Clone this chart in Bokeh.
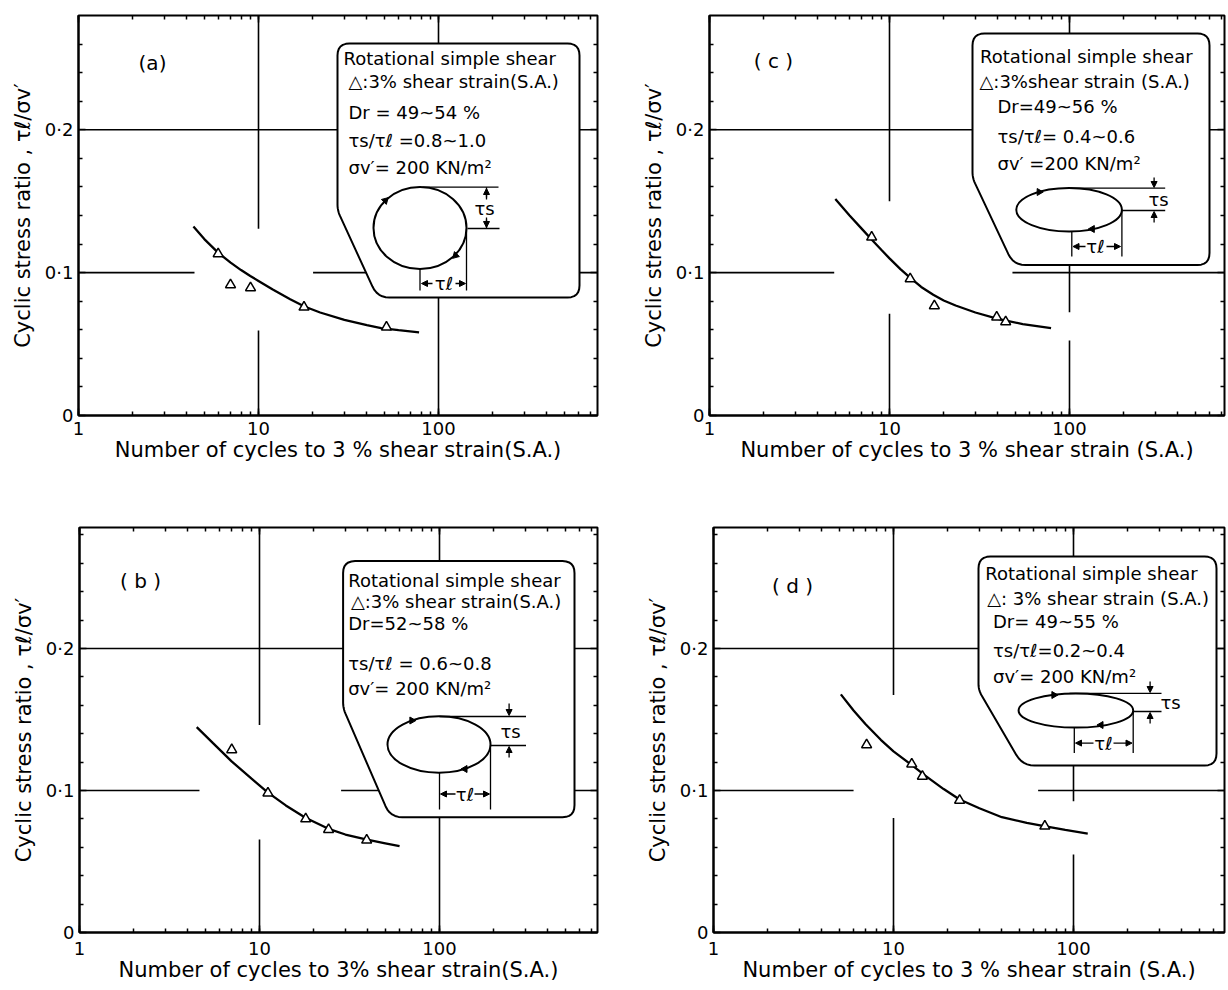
import math
from bokeh.plotting import figure
from bokeh.models import (Range1d, LogAxis, LinearAxis, LogTicker, FixedTicker,
                          CustomJSTickFormatter, Arrow, NormalHead, ColumnDataSource)
from bokeh.layouts import row, column
from bokeh.core.properties import value
from bokeh.embed import file_html
from bokeh.resources import INLINE

FONT = "DejaVu Sans"

# ---------------- data ----------------
a_cycles = [5.97, 6.99, 9.03, 17.9, 51.4]
a_ratio = [0.1132, 0.0915, 0.0894, 0.0758, 0.0618]
a_fit_cycles = [4.35, 5, 6, 7, 8, 9, 10, 12, 15, 18, 22, 30, 40, 48, 60, 78]
a_fit_ratio = [0.1323, 0.1235, 0.1137, 0.1070, 0.1018, 0.0976, 0.0942, 0.0882,
               0.0814, 0.0763, 0.0721, 0.0670, 0.0632, 0.0612, 0.0597, 0.0582]

b_cycles = [7.01, 11.14, 18.06, 24.2, 39.4]
b_ratio = [0.1287, 0.0982, 0.0800, 0.0725, 0.0650]
b_fit_cycles = [4.48, 5.5, 7, 9, 11.1, 14, 18, 24, 30, 39, 50, 60]
b_fit_ratio = [0.1446, 0.1335, 0.1205, 0.1085, 0.0987, 0.0895, 0.0808, 0.0732,
               0.0690, 0.0655, 0.0628, 0.0608]

c_cycles = [7.96, 13.03, 17.75, 39.4, 44.2]
c_ratio = [0.1248, 0.0957, 0.0768, 0.0688, 0.0656]
c_fit_cycles = [5, 6, 7, 8, 9, 10, 11.5, 13, 15, 17.5, 20, 23.3, 30, 40, 55, 79]
c_fit_ratio = [0.1515, 0.1400, 0.1308, 0.1228, 0.1160, 0.1100, 0.1025, 0.0965,
               0.0900, 0.0845, 0.0805, 0.0770, 0.0721, 0.0677, 0.0640, 0.0611]

d_cycles = [7.09, 12.63, 14.47, 23.3, 69.3]
d_ratio = [0.1322, 0.1186, 0.1100, 0.0931, 0.0749]
d_fit_cycles = [5.1, 6, 7, 8.5, 10, 12.6, 15, 19, 23.3, 30, 40, 55, 70, 90, 120]
d_fit_ratio = [0.1677, 0.1564, 0.1467, 0.1357, 0.1276, 0.1180, 0.1105, 0.1010,
               0.0937, 0.0875, 0.0812, 0.0772, 0.0748, 0.0722, 0.0697]

y_tick_values = [0, 0.1, 0.2]
y_tick_labels = ["0", "0·1", "0·2"]
y_minor_values = [0.02, 0.04, 0.06, 0.08, 0.12, 0.14, 0.16, 0.18, 0.22, 0.24, 0.26, 0.28]
x_tick_values = [1, 10, 100]
x_tick_labels = ["1", "10", "100"]

y_title = "Cyclic stress ratio , τℓ/σv′"
x_title_a = "Number of cycles to 3 % shear strain(S.A.)"
x_title_b = "Number of cycles to 3% shear strain(S.A.)"
x_title_c = "Number of cycles to 3 % shear strain (S.A.)"
x_title_d = "Number of cycles to 3 % shear strain (S.A.)"

legend_a = ["Rotational simple shear", "△:3% shear strain(S.A.)", "Dr = 49~54 %",
            "τs/τℓ =0.8~1.0", "σv′= 200 KN/m²"]
legend_b = ["Rotational simple shear", "△:3% shear strain(S.A.)", "Dr=52~58 %",
            "τs/τℓ = 0.6~0.8", "σv′= 200 KN/m²"]
legend_c = ["Rotational simple shear", "△:3%shear strain (S.A.)", "Dr=49~56 %",
            "τs/τℓ= 0.4~0.6", "σv′ =200  KN/m²"]
legend_d = ["Rotational simple shear", "△: 3% shear strain (S.A.)", "Dr= 49~55 %",
            "τs/τℓ=0.2~0.4", "σv′= 200 KN/m²"]

# ---------------- layout (reference pixel positions) ----------------
PANELS = {
    "a": dict(tag="(a)", tag_xy=(152, 62), cycles=a_cycles, ratio=a_ratio,
              fit_x=a_fit_cycles, fit_y=a_fit_ratio, xtitle=x_title_a, legend=legend_a,
              Lref=78, Y0=415, S=1428.6, fw=519, fh=400,
              w=608, h=498, bl=78, br=11, bt=15, bb=83, tick_sto=6,
              hgrid=[(0.2, 1, None), (0.1, 1, 4.41), (0.1, 20.1, None)],
              vgrid=[(10, 0.1307, None), (10, 0, 0.0595), (100, 0, None)],
              box=(337, 43, 579, 297, 210, 377),
              leg_xy=[(343, 58), (348, 81), (348, 112), (348, 140), (348, 167)],
              ell=(419.5, 227.5, 93, 82),
              segs=[(422, 186.7, 498, 186.7), (467, 228, 499, 228), (486, 186.7, 486, 197),
                    (486, 219, 486, 228), (419.5, 268, 419.5, 290), (466, 228, 466, 290)],
              arrows=[(486, 199, 486, 188), (486, 217, 486, 227), (432, 283, 421, 283), (455, 283, 465, 283)],
              dimlab=[("τs", 484, 208), ("τℓ", 443.5, 283)],
              eheads=[(384.8, 200, -math.pi / 4), (455, 255, 3 * math.pi / 4)]),
    "c": dict(tag="( c )", tag_xy=(773, 60), cycles=c_cycles, ratio=c_ratio,
              fit_x=c_fit_cycles, fit_y=c_fit_ratio, xtitle=x_title_c, legend=legend_c,
              Lref=709, Y0=415, S=1428.6, fw=515, fh=400,
              w=618, h=498, bl=101, br=2, bt=15, bb=83, tick_sto=6,
              hgrid=[(0.2, 1, None), (0.1, 1, 4.93), (0.1, 48.2, None)],
              vgrid=[(10, 0.150, None), (10, 0, 0.0712), (100, 0.0723, None), (100, 0, 0.0525)],
              box=(972, 33, 1209, 264.5, 177.5, 1013),
              leg_xy=[(979.6, 55.5), (979, 80.6), (997, 106), (997, 135.7), (997, 162.5)],
              ell=(1068.6, 209.3, 105.6, 43.5),
              segs=[(1070, 187.6, 1164.7, 187.6), (1121.4, 210, 1164.7, 210),
                    (1071.3, 231, 1071.3, 256), (1121.4, 210, 1121.4, 256)],
              arrows=[(1153.6, 177, 1153.6, 187), (1153.6, 222, 1153.6, 211),
                      (1085, 246, 1072.5, 246), (1106, 246, 1120, 246)],
              dimlab=[("τs", 1158, 199), ("τℓ", 1095, 246)],
              eheads=[(1038.7, 191.5, -math.pi / 2), (1091.8, 228.5, math.pi / 2)]),
    "b": dict(tag="( b )", tag_xy=(140, 580), cycles=b_cycles, ratio=b_ratio,
              fit_x=b_fit_cycles, fit_y=b_fit_ratio, xtitle=x_title_b, legend=legend_b,
              Lref=79, Y0=932, S=1420.0, fw=518, fh=405,
              w=608, h=490, bl=79, br=11, bt=29, bb=56, tick_sto=9,
              hgrid=[(0.2, 1, None), (0.1, 1, 4.64), (0.1, 28.4, None)],
              vgrid=[(10, 0.1462, None), (10, 0, 0.0655), (100, 0, None)],
              box=(342.6, 560.6, 574, 816.7, 707.7, 389.8),
              leg_xy=[(347.7, 580), (350.4, 601.4), (347.7, 623), (347.7, 663), (347.7, 688)],
              ell=(438.5, 744, 103, 56.5),
              segs=[(439, 716, 525.5, 716), (490, 745, 525.5, 745),
                    (439, 772.5, 439, 809), (490, 745, 490, 809)],
              arrows=[(508.6, 703, 508.6, 715), (508.6, 757, 508.6, 746),
                      (455, 793.5, 440, 793.5), (474, 793.5, 489, 793.5)],
              dimlab=[("τs", 510, 731), ("τℓ", 464.5, 793.5)],
              eheads=[(411.4, 720, -math.pi / 2), (464.5, 768.5, math.pi / 2)]),
    "d": dict(tag="( d )", tag_xy=(792, 585), cycles=d_cycles, ratio=d_ratio,
              fit_x=d_fit_cycles, fit_y=d_fit_ratio, xtitle=x_title_d, legend=legend_d,
              Lref=713, Y0=932, S=1420.0, fw=511, fh=405,
              w=618, h=490, bl=105, br=2, bt=29, bb=56, tick_sto=9,
              hgrid=[(0.2, 1, None), (0.1, 1, 6.0), (0.1, 63.6, None)],
              vgrid=[(10, 0.1673, None), (10, 0, 0.0807), (100, 0.0924, None), (100, 0, 0.055)],
              box=(978, 556, 1216, 765, 689.5, 1022),
              leg_xy=[(984.7, 573), (986.7, 598), (992.5, 621.4), (992.5, 649.6), (992.5, 676.2)],
              ell=(1075.4, 710, 114.6, 34.2),
              segs=[(1069, 692.8, 1161, 692.8), (1132.7, 711, 1161, 711),
                    (1073.8, 727, 1073.8, 752.6), (1132.7, 711, 1132.7, 752.6)],
              arrows=[(1149.6, 681, 1149.6, 692), (1149.6, 723, 1149.6, 712),
                      (1093, 742.6, 1075, 742.6), (1113, 742.6, 1131.5, 742.6)],
              dimlab=[("τs", 1170, 702), ("τℓ", 1103, 742.6)],
              eheads=[(1053.4, 694.5, -math.pi / 2), (1100.5, 724.5, math.pi / 2)]),
}


def rounded_poly(pts, radii, n=6):
    out = []
    m = len(pts)
    for i in range(m):
        P, A, B = pts[i], pts[i - 1], pts[(i + 1) % m]
        r = radii[i]

        def toward(Q):
            dx, dy = Q[0] - P[0], Q[1] - P[1]
            L = math.hypot(dx, dy)
            return (P[0] + dx / L * r, P[1] + dy / L * r)
        P1, P2 = toward(A), toward(B)
        for k in range(n + 1):
            t = k / n
            out.append(((1 - t) ** 2 * P1[0] + 2 * (1 - t) * t * P[0] + t ** 2 * P2[0],
                        (1 - t) ** 2 * P1[1] + 2 * (1 - t) * t * P[1] + t ** 2 * P2[1]))
    return out


def style_ticks(ax):
    ax.major_tick_in = 7
    ax.major_tick_out = 0
    ax.minor_tick_in = 4
    ax.minor_tick_out = 0
    ax.major_tick_line_width = 1.5
    ax.minor_tick_line_width = 1.5
    ax.major_tick_line_color = "black"
    ax.minor_tick_line_color = "black"


def make_panel(s):
    xmax = 10 ** (s["fw"] / 180.0)
    ymax = s["fh"] / s["S"]
    fx = lambda X: 10 ** ((X - s["Lref"]) / 180.0)
    fy = lambda Y: (s["Y0"] - Y) / s["S"]

    p = figure(width=s["w"], height=s["h"], x_axis_type="log",
               x_range=Range1d(1, xmax), y_range=Range1d(0, ymax),
               output_backend="svg", toolbar_location=None,
               min_border_left=s["bl"], min_border_right=s["br"],
               min_border_top=s["bt"], min_border_bottom=s["bb"],
               background_fill_color="white", border_fill_color="white")
    p.outline_line_color = "black"
    p.outline_line_width = 2
    p.xgrid.visible = False
    p.ygrid.visible = False

    # axes
    xa = p.xaxis[0]
    ya = p.yaxis[0]
    xa.ticker = LogTicker(num_minor_ticks=10)
    xa.formatter = CustomJSTickFormatter(
        args=dict(vals=x_tick_values, labs=x_tick_labels),
        code="for (let i = 0; i < vals.length; i++) { if (Math.abs(tick - vals[i]) < 1e-6 * vals[i]) return labs[i]; } return '';")
    ya.ticker = FixedTicker(ticks=y_tick_values, minor_ticks=y_minor_values)
    ya.formatter = CustomJSTickFormatter(
        args=dict(vals=y_tick_values, labs=y_tick_labels),
        code="for (let i = 0; i < vals.length; i++) { if (Math.abs(tick - vals[i]) < 1e-9) return labs[i]; } return '';")
    xa.axis_label = s["xtitle"]
    ya.axis_label = y_title
    for ax in (xa, ya):
        ax.axis_line_color = "black"
        ax.axis_line_width = 2
        style_ticks(ax)
        ax.major_label_text_font = FONT
        ax.major_label_text_font_size = "18px"
        ax.major_label_text_color = "black"
        ax.axis_label_text_font = FONT
        ax.axis_label_text_font_size = "21px"
        ax.axis_label_text_font_style = "normal"
        ax.axis_label_text_color = "black"
    xa.major_label_standoff = s["tick_sto"]
    xa.axis_label_standoff = 0
    ya.major_label_standoff = 5
    ya.axis_label_standoff = 7

    top = LogAxis(ticker=LogTicker(num_minor_ticks=10),
                  formatter=CustomJSTickFormatter(code="return '';"))
    right = LinearAxis(ticker=FixedTicker(ticks=y_tick_values, minor_ticks=y_minor_values),
                       formatter=CustomJSTickFormatter(code="return '';"))
    for ax in (top, right):
        ax.major_label_text_font_size = "8px"
        ax.major_label_standoff = 0
        ax.axis_line_color = None
        style_ticks(ax)
    p.add_layout(top, "above")
    p.add_layout(right, "right")

    # broken grid lines
    gx0, gy0, gx1, gy1 = [], [], [], []
    for yv, xa0, xb in s["hgrid"]:
        gx0.append(xa0); gx1.append(xmax if xb is None else xb); gy0.append(yv); gy1.append(yv)
    for xv, ya0, yb in s["vgrid"]:
        gx0.append(xv); gx1.append(xv); gy0.append(ya0); gy1.append(ymax if yb is None else yb)
    p.segment(gx0, gy0, gx1, gy1, line_color="black", line_width=1.6)

    # inset box
    L, T, R, B, Yc, Xd = s["box"]
    poly = rounded_poly([(L, T), (R, T), (R, B), (Xd, B), (L, Yc)], [12, 12, 12, 12, 6])
    p.patch([fx(X) for X, _ in poly], [fy(Y) for _, Y in poly],
            fill_color="white", line_color="black", line_width=2)

    # legend text
    p.text(x=[fx(X) for X, _ in s["leg_xy"]], y=[fy(Y) for _, Y in s["leg_xy"]],
           text=s["legend"], text_font=value(FONT), text_font_size="18px",
           text_baseline="middle", text_align="left", text_color="black")

    # loop diagram
    cx, cy, ew, eh = s["ell"]
    p.ellipse(x=[fx(cx)], y=[fy(cy)], width=[ew], height=[eh],
              width_units="screen", height_units="screen",
              fill_color=None, line_color="black", line_width=2)
    p.segment([fx(a) for a, _, _, _ in s["segs"]], [fy(b) for _, b, _, _ in s["segs"]],
              [fx(c) for _, _, c, _ in s["segs"]], [fy(d) for _, _, _, d in s["segs"]],
              line_color="black", line_width=1.3)
    asrc = ColumnDataSource(dict(
        x0=[fx(a) for a, _, _, _ in s["arrows"]], y0=[fy(b) for _, b, _, _ in s["arrows"]],
        x1=[fx(c) for _, _, c, _ in s["arrows"]], y1=[fy(d) for _, _, _, d in s["arrows"]]))
    p.add_layout(Arrow(end=NormalHead(size=6, fill_color="black", line_color="black"),
                       x_start="x0", y_start="y0", x_end="x1", y_end="y1",
                       source=asrc, line_color="black", line_width=1.3))
    p.text(x=[fx(X) for _, X, _ in s["dimlab"]], y=[fy(Y) for _, _, Y in s["dimlab"]],
           text=[t for t, _, _ in s["dimlab"]], text_font=value(FONT), text_font_size="18px",
           text_baseline="middle", text_align="center", text_color="black")
    p.scatter([fx(X) for X, _, _ in s["eheads"]], [fy(Y) for _, Y, _ in s["eheads"]],
              angle=[a for _, _, a in s["eheads"]], marker="triangle", size=7,
              fill_color="black", line_color="black")

    # panel tag
    p.text(x=[fx(s["tag_xy"][0])], y=[fy(s["tag_xy"][1])], text=[s["tag"]],
           text_font=value(FONT), text_font_size="20px", text_baseline="middle",
           text_align="center", text_color="black")

    # data
    p.line(s["fit_x"], s["fit_y"], line_color="black", line_width=2.3)
    p.scatter(s["cycles"], s["ratio"], marker="triangle", size=10,
              fill_color="white", line_color="black", line_width=1.5)
    return p


pa = make_panel(PANELS["a"])
pc = make_panel(PANELS["c"])
pb = make_panel(PANELS["b"])
pd = make_panel(PANELS["d"])

layout = column(row(pa, pc), row(pb, pd))
open("out.html", "w").write(file_html(layout, INLINE))
